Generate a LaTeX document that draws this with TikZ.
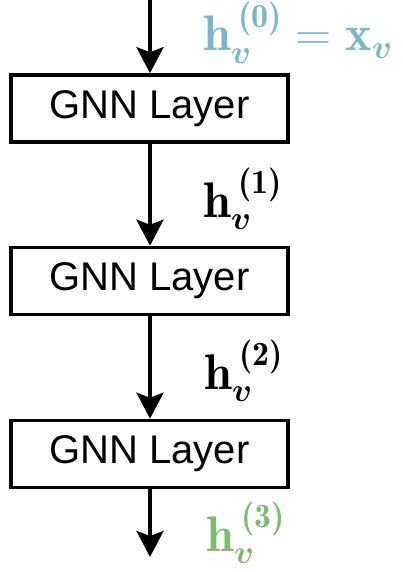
\RequirePackage{fix-cm}
\documentclass[tikz,border=0pt]{standalone}
\usepackage{amsmath,bm}
\usepackage{fontspec}
\newfontfamily\arialfont{Liberation Sans}
\newfontfamily\demifont{lmromandemi10-regular.otf}
\DeclareMathSizes{50}{50}{33}{26}
\usetikzlibrary{arrows.meta}
\definecolor{inblue}{RGB}{122,182,202}
\definecolor{outgreen}{RGB}{128,186,112}
\newcommand{\layersup}[1]{\kern7pt\raisebox{5pt}{\demifont\fontsize{34}{34}\selectfont(#1)}}
\tikzset{
  layerbox/.style={draw=black, line width=3.6pt, minimum width=277pt, minimum height=67pt,
    inner sep=0pt, font=\arialfont\fontsize{40}{44}\selectfont},
  flow/.style={line width=3.6pt, -{Stealth[length=26pt,width=27pt,inset=5pt]}},
  hlabel/.style={anchor=base west, inner sep=0pt, font=\fontsize{50}{54}\selectfont}
}
\begin{document}
\begin{tikzpicture}[x=1pt,y=-1pt]
\useasboundingbox (0,0) rectangle (402,572);
\node[layerbox] (l1) at (149.5,108.5) {GNN Layer};
\node[layerbox] (l2) at (149.5,281) {GNN Layer};
\node[layerbox] (l3) at (149.5,454) {GNN Layer};
\coordinate (in) at (150,0);
\coordinate (out) at (150,557);
\draw[flow] (in) -- (l1.north -| in);
\draw[flow] (l1.south -| in) -- (l2.north -| in);
\draw[flow] (l2.south -| in) -- (l3.north -| in);
\draw[flow] (l3.south -| in) -- (out);
\node[hlabel, text=inblue] (h0) at (203,51) {$\mathbf{h}_{\bm{v}}^{\layersup{0}} = \mathbf{x}_{\bm{v}}$};
\node[hlabel] (h1) at (203,217) {$\mathbf{h}_{\bm{v}}^{\layersup{1}}$};
\node[hlabel] (h2) at (204,389) {$\mathbf{h}_{\bm{v}}^{\layersup{2}}$};
\node[hlabel, text=outgreen] (h3) at (206,551) {$\mathbf{h}_{\bm{v}}^{\layersup{3}}$};
\end{tikzpicture}
\end{document}
